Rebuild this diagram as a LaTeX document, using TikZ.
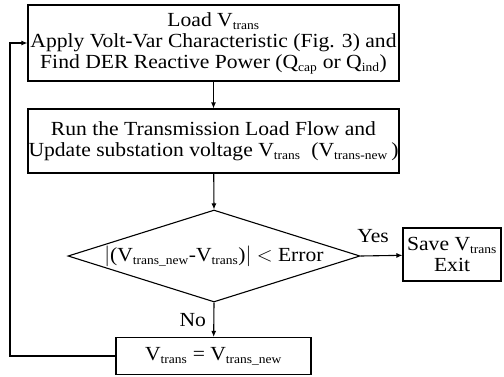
\documentclass[tikz,border=0pt]{standalone}
\usepackage{fontspec}
\setmainfont{Liberation Serif}[FakeStretch=1.08]
\usetikzlibrary{shapes.geometric,arrows.meta}
\newcommand\sbs[1]{\textsubscript{\fontsize{12.5}{12}\selectfont #1}}
\begin{document}
\begin{tikzpicture}[x=1pt,y=-1pt,line width=1.1pt,
  stepbox/.style={draw,rectangle,inner sep=0pt,align=center,font=\fontsize{20}{21}\selectfont},
  flow/.style={-{Latex[length=6pt,width=5pt]}},
  lbl/.style={font=\fontsize{20}{21}\selectfont}]
\useasboundingbox (0,0) rectangle (504,376);
\node (load) at (213.5,43) [stepbox,minimum width=371,minimum height=76]
  {Load V\sbs{trans}\\Apply Volt-Var Characteristic (Fig. 3) and\\Find DER Reactive Power (Q\sbs{cap} or Q\sbs{ind})};
\node (run) at (213.5,141) [stepbox,minimum width=371,minimum height=64]
  {Run the Transmission Load Flow and\\Update substation voltage V\sbs{trans}\ \ (V\sbs{trans-new}\,)};
\node (dec) at (214,256) [draw,diamond,inner sep=0pt,minimum width=292,minimum height=92] {};
\node (dectxt) at (dec.center) [lbl] {$|$(V\sbs{trans\_new}-V\sbs{trans})$|$ $<$ Error};
\node (save) at (452,254.5) [stepbox,minimum width=98,minimum height=53]
  {Save V\sbs{trans}\\Exit};
\node (upd) at (213.5,356) [stepbox,minimum width=195,minimum height=37]
  {V\sbs{trans} = V\sbs{trans\_new}};
\coordinate (back) at (10,0);
% connectors
\draw[flow] (load) -- (run);
\draw[flow] (run) -- (dec.north);
\draw[flow] (dec.east) -- node[lbl,above=9pt,pos=0.3] {Yes} (save);
\draw[flow] (dec.south) -- node[lbl,left=4pt] {No} (upd);
\draw[flow] (upd.west) -| (back |- upd.west) |- (load.west);
\end{tikzpicture}
\end{document}
